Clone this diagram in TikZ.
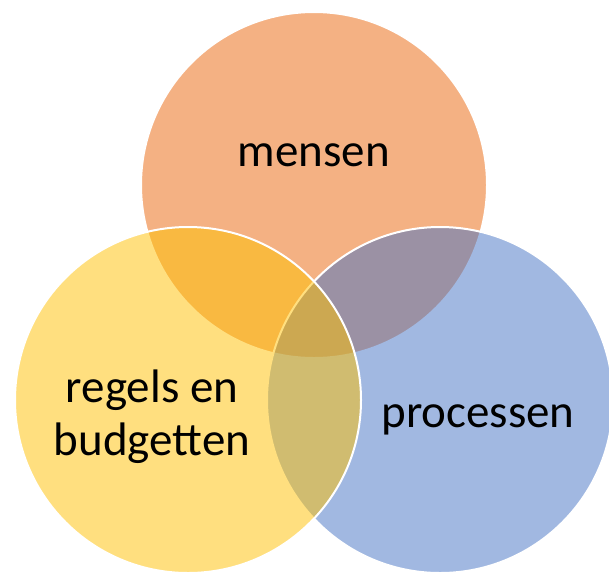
\documentclass[tikz,border=0pt]{standalone}
\usepackage{fontspec}
\setmainfont{Carlito}
\definecolor{cOrange}{HTML}{ED7D31}
\definecolor{cBlue}{HTML}{4472C4}
\definecolor{cYellow}{HTML}{FFC000}
\begin{document}
\begin{tikzpicture}[x=1pt,y=-1pt,
  venn/.style={circle,inner sep=0pt,minimum size=346pt,draw=white,line width=2pt},
  lbl/.style={font=\fontsize{47}{52}\selectfont,text=black,anchor=base,inner sep=0pt}]
\useasboundingbox (0,0) rectangle (609,574);
\node[venn,fill=cOrange,fill opacity=0.6] (mc) at (314,185) {};
\node[venn,fill=cBlue,fill opacity=0.5] (pc) at (440,400) {};
\node[venn,fill=cYellow,fill opacity=0.5] (rc) at (188,400) {};
\node[lbl] (mt) at (314,166) {mensen};
\node[lbl] (rt1) at (152,402) {regels en};
\node[lbl] (rt2) at (152,455) {budgetten};
\node[lbl] (pt) at (478,427) {processen};
\end{tikzpicture}
\end{document}
